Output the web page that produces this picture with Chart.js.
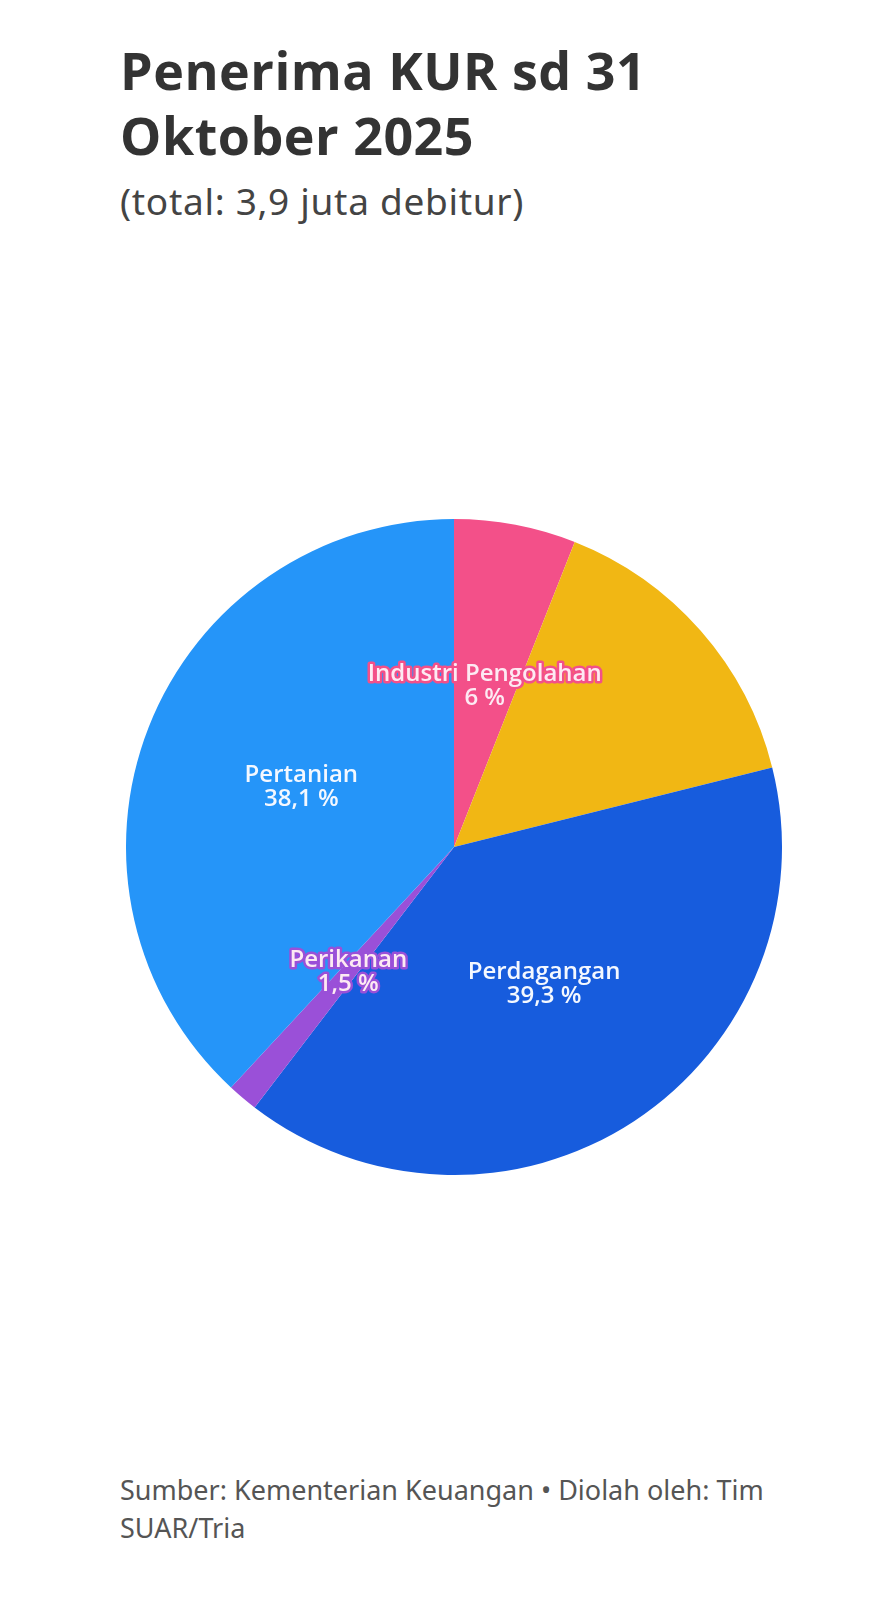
<!DOCTYPE html>
<html>
<head>
<meta charset="utf-8">
<script src="https://cdn.jsdelivr.net/npm/chart.js@4"></script>
<style>
  body { margin: 0; background: #fff; width: 882px; height: 1600px; position: relative; overflow: hidden; }
  #title { position: absolute; left: 120px; top: 37px; font-family: "Open Sans", sans-serif; font-weight: 700;
           font-size: 52px; line-height: 65px; letter-spacing: 0.5px; color: #333; margin: 0; }
  #sub { position: absolute; left: 120px; top: 175px; font-family: "Noto Sans", sans-serif; font-size: 37px;
         letter-spacing: 0.7px; color: #444; }
  #foot { position: absolute; left: 120px; top: 1471px; width: 680px; font-family: "Noto Sans", sans-serif;
          font-size: 27px; line-height: 38px; color: #555; }
  #wrap { position: absolute; left: 126px; top: 519px; width: 656px; height: 656px; }
</style>
</head>
<body>
<h1 id="title">Penerima KUR sd 31<br>Oktober 2025</h1>
<div id="sub">(total: 3,9 juta debitur)</div>
<div id="wrap"><canvas id="pie" width="656" height="656"></canvas></div>
<div id="foot">Sumber: Kementerian Keuangan • Diolah oleh: Tim SUAR/Tria</div>
<script>
// sektor penerima KUR, mulai dari arah jam 12 searah jarum jam
const sectors = ["Industri Pengolahan", "", "Perdagangan", "Perikanan", "Pertanian"];
const shares = [6, 15.1, 39.3, 1.5, 38.1];
const colors = ["#f35089", "#f1b714", "#175cdd", "#9a50d8", "#2595f9"];
const glow = [true, false, false, true, false];

const fmt = v => String(v).replace(".", ",") + " %";

const sliceLabels = {
  id: "sliceLabels",
  afterDatasetsDraw(chart) {
    const ctx = chart.ctx;
    const arcs = chart.getDatasetMeta(0).data;
    ctx.save();
    ctx.font = "600 24px 'Open Sans', sans-serif";
    ctx.textAlign = "center";
    ctx.textBaseline = "middle";
    ctx.lineJoin = "round";
    arcs.forEach((arc, i) => {
      if (!sectors[i]) return;
      const p = arc.tooltipPosition();
      const lines = [sectors[i], fmt(shares[i])];
      lines.forEach((t, k) => {
        const y = p.y - 12 + k * 24;
        if (glow[i]) {
          ctx.strokeStyle = colors[i];
          ctx.lineWidth = 5;
          ctx.strokeText(t, p.x, y);
          ctx.fillStyle = "#fdeaf3";
        } else {
          ctx.fillStyle = "#f4f8ff";
        }
        ctx.fillText(t, p.x, y);
      });
    });
    ctx.restore();
  }
};

new Chart(document.getElementById("pie"), {
  type: "pie",
  data: {
    labels: sectors,
    datasets: [{
      data: shares,
      backgroundColor: colors,
      borderWidth: 0
    }]
  },
  options: {
    responsive: false,
    animation: false,
    layout: { padding: 0 },
    plugins: { legend: { display: false }, tooltip: { enabled: false } }
  },
  plugins: [sliceLabels]
});
</script>
</body>
</html>
